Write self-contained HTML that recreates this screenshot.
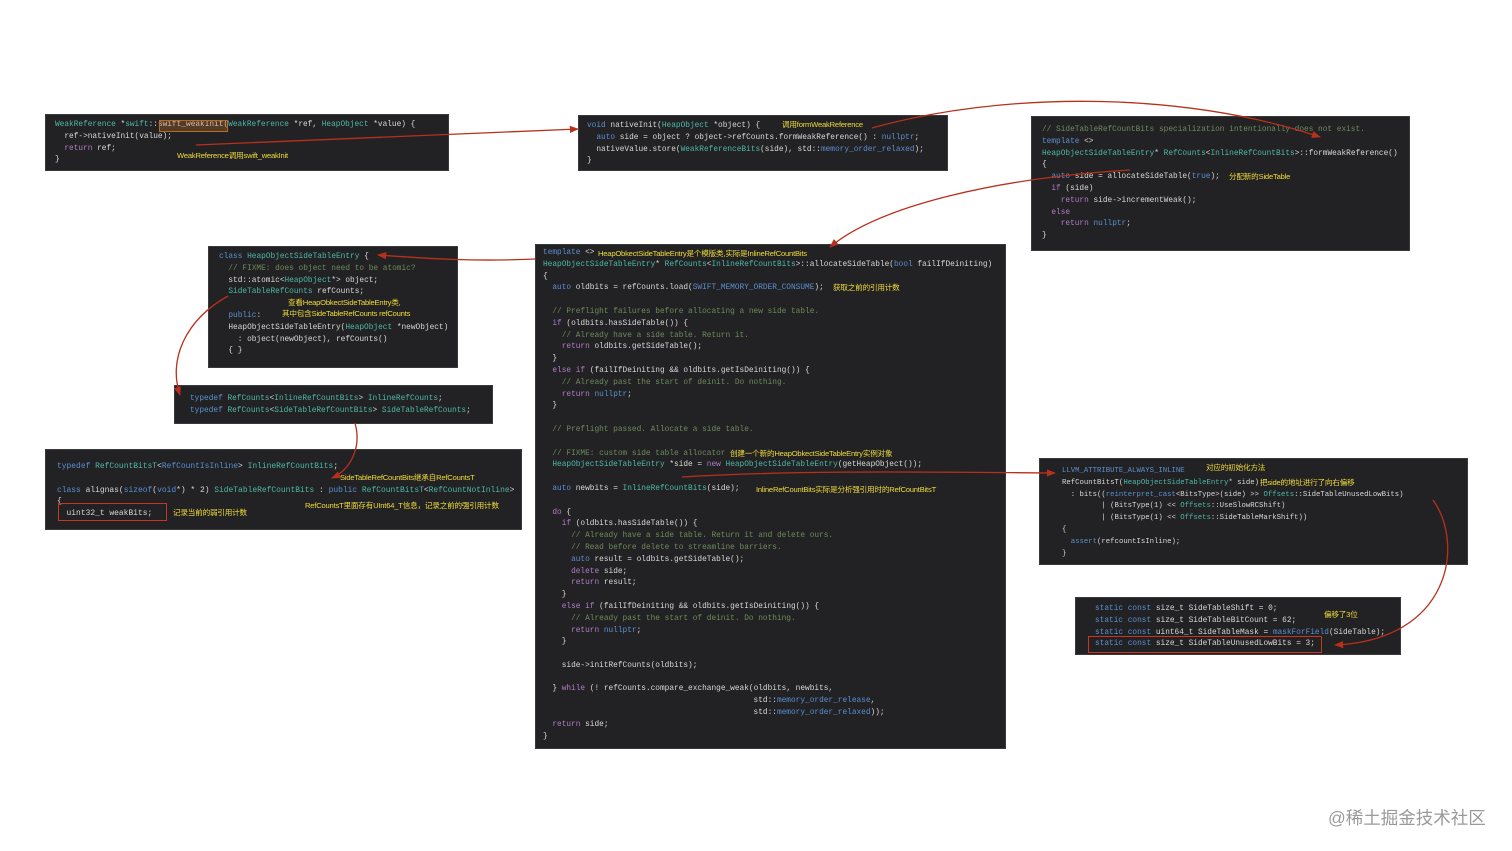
<!DOCTYPE html>
<html><head><meta charset="utf-8"><style>
body{margin:0;width:1512px;height:851px;background:#fff;position:relative;overflow:hidden}
.b{position:absolute;background:#222224;border:1px solid #3a3a3a}
pre{position:absolute;margin:0;font-family:"Liberation Mono",monospace;font-size:7.8px;line-height:11.8px;color:#d8d8d8;white-space:pre}
.k{color:#5b8fd0}.t{color:#4fb8a8}.c{color:#6e8a5a}.p{color:#b07cc6}.f{color:#e0e0b8}
.a{position:absolute;font-family:"Liberation Sans","Noto Sans CJK SC",sans-serif;font-size:7.6px;color:#f0dc3a;white-space:nowrap;letter-spacing:-0.2px}
.r{position:absolute;border:1.3px solid #c8361f}
</style></head><body>

<div class="b" style="left:45px;top:114px;width:402px;height:55px"></div>
<pre style="left:55px;top:120px"><span class="t">WeakReference</span> *<span class="t">swift</span>::swift_weakInit(<span class="t">WeakReference</span> *ref, <span class="t">HeapObject</span> *value) {
  ref-&gt;nativeInit(value);
  <span class="p">return</span> ref;
}</pre>
<div style="position:absolute;left:159px;top:120px;width:67px;height:10px;background:rgba(200,120,40,0.3);border:1px solid #b86a20"></div>
<div class="a" style="left:177px;top:150px">WeakReference调用swift_weakInit</div>

<div class="b" style="left:578px;top:115px;width:368px;height:54px"></div>
<pre style="left:587px;top:121px"><span class="k">void</span> nativeInit(<span class="t">HeapObject</span> *object) {
  <span class="k">auto</span> side = object ? object-&gt;refCounts.formWeakReference() : <span class="k">nullptr</span>;
  nativeValue.store(<span class="t">WeakReferenceBits</span>(side), std::<span class="k">memory_order_relaxed</span>);
}</pre>
<div class="a" style="left:782px;top:119px">调用formWeakReference</div>

<div class="b" style="left:1031px;top:116px;width:377px;height:133px"></div>
<pre style="left:1042px;top:125px"><span class="c">// SideTableRefCountBits specialization intentionally does not exist.</span>
<span class="k">template</span> &lt;&gt;
<span class="t">HeapObjectSideTableEntry</span>* <span class="t">RefCounts</span>&lt;<span class="t">InlineRefCountBits</span>&gt;::formWeakReference()
{
  <span class="k">auto</span> side = allocateSideTable(<span class="k">true</span>);
  <span class="p">if</span> (side)
    <span class="p">return</span> side-&gt;incrementWeak();
  <span class="p">else</span>
    <span class="p">return</span> <span class="k">nullptr</span>;
}</pre>
<div class="a" style="left:1229px;top:171px">分配新的SideTable</div>

<div class="b" style="left:208px;top:246px;width:248px;height:120px"></div>
<pre style="left:219px;top:252px"><span class="k">class</span> <span class="t">HeapObjectSideTableEntry</span> {
  <span class="c">// FIXME: does object need to be atomic?</span>
  std::atomic&lt;<span class="t">HeapObject</span>*&gt; object;
  <span class="t">SideTableRefCounts</span> refCounts;

  <span class="k">public</span>:
  HeapObjectSideTableEntry(<span class="t">HeapObject</span> *newObject)
    : object(newObject), refCounts()
  { }</pre>
<div class="a" style="left:288px;top:297px">查看HeapObkectSideTableEntry类,</div>
<div class="a" style="left:282px;top:308px">其中包含SideTableRefCounts refCounts</div>

<div class="b" style="left:174px;top:385px;width:317px;height:37px"></div>
<pre style="left:190px;top:394px"><span class="k">typedef</span> <span class="t">RefCounts</span>&lt;<span class="t">InlineRefCountBits</span>&gt; <span class="t">InlineRefCounts</span>;
<span class="k">typedef</span> <span class="t">RefCounts</span>&lt;<span class="t">SideTableRefCountBits</span>&gt; <span class="t">SideTableRefCounts</span>;</pre>

<div class="b" style="left:45px;top:449px;width:475px;height:79px"></div>
<pre style="left:57px;top:461px;font-size:7.95px"><span class="k">typedef</span> <span class="t">RefCountBitsT</span>&lt;<span class="k">RefCountIsInline</span>&gt; <span class="t">InlineRefCountBits</span>;

<span class="k">class</span> alignas(<span class="k">sizeof</span>(<span class="k">void</span>*) * 2) <span class="t">SideTableRefCountBits</span> : <span class="k">public</span> <span class="t">RefCountBitsT</span>&lt;<span class="t">RefCountNotInline</span>&gt;
{
  uint32_t weakBits;</pre>
<div class="r" style="left:58px;top:503px;width:107px;height:16px"></div>
<div class="a" style="left:173px;top:507px">记录当前的弱引用计数</div>
<div class="a" style="left:340px;top:472px">SideTableRefCountBits继承自RefCountsT</div>
<div class="a" style="left:305px;top:500px">RefCountsT里面存有UInt64_T信息，记录之前的强引用计数</div>

<div class="b" style="left:535px;top:244px;width:469px;height:503px"></div>
<pre style="left:543px;top:248px"><span class="k">template</span> &lt;&gt;
<span class="t">HeapObjectSideTableEntry</span>* <span class="t">RefCounts</span>&lt;<span class="t">InlineRefCountBits</span>&gt;::allocateSideTable(<span class="k">bool</span> failIfDeiniting)
{
  <span class="k">auto</span> oldbits = refCounts.load(<span class="k">SWIFT_MEMORY_ORDER_CONSUME</span>);

  <span class="c">// Preflight failures before allocating a new side table.</span>
  <span class="p">if</span> (oldbits.hasSideTable()) {
    <span class="c">// Already have a side table. Return it.</span>
    <span class="p">return</span> oldbits.getSideTable();
  }
  <span class="p">else if</span> (failIfDeiniting &amp;&amp; oldbits.getIsDeiniting()) {
    <span class="c">// Already past the start of deinit. Do nothing.</span>
    <span class="p">return</span> <span class="k">nullptr</span>;
  }

  <span class="c">// Preflight passed. Allocate a side table.</span>

  <span class="c">// FIXME: custom side table allocator</span>
  <span class="t">HeapObjectSideTableEntry</span> *side = <span class="p">new</span> <span class="t">HeapObjectSideTableEntry</span>(getHeapObject());

  <span class="k">auto</span> newbits = <span class="t">InlineRefCountBits</span>(side);

  <span class="p">do</span> {
    <span class="p">if</span> (oldbits.hasSideTable()) {
      <span class="c">// Already have a side table. Return it and delete ours.</span>
      <span class="c">// Read before delete to streamline barriers.</span>
      <span class="k">auto</span> result = oldbits.getSideTable();
      <span class="p">delete</span> side;
      <span class="p">return</span> result;
    }
    <span class="p">else if</span> (failIfDeiniting &amp;&amp; oldbits.getIsDeiniting()) {
      <span class="c">// Already past the start of deinit. Do nothing.</span>
      <span class="p">return</span> <span class="k">nullptr</span>;
    }

    side-&gt;initRefCounts(oldbits);

  } <span class="p">while</span> (! refCounts.compare_exchange_weak(oldbits, newbits,
                                             std::<span class="k">memory_order_release</span>,
                                             std::<span class="k">memory_order_relaxed</span>));
  <span class="p">return</span> side;
}</pre>
<div class="a" style="left:598px;top:248px">HeapObkectSideTableEntry是个模版类,实际是InlineRefCountBits</div>
<div class="a" style="left:833px;top:282px">获取之前的引用计数</div>
<div class="a" style="left:730px;top:448px">创建一个新的HeapObkectSideTableEntry实例对象</div>
<div class="a" style="left:756px;top:484px">InlineRefCountBits实际是分析强引用时的RefCountBitsT</div>

<div class="b" style="left:1039px;top:458px;width:427px;height:105px"></div>
<pre style="left:1062px;top:466px;font-size:7.3px"><span class="k">LLVM_ATTRIBUTE_ALWAYS_INLINE</span>
RefCountBitsT(<span class="t">HeapObjectSideTableEntry</span>* side)
  : bits((<span class="k">reinterpret_cast</span>&lt;BitsType&gt;(side) &gt;&gt; <span class="t">Offsets</span>::SideTableUnusedLowBits)
         | (BitsType(1) &lt;&lt; <span class="t">Offsets</span>::UseSlowRCShift)
         | (BitsType(1) &lt;&lt; <span class="t">Offsets</span>::SideTableMarkShift))
{
  <span class="k">assert</span>(refcountIsInline);
}</pre>
<div class="a" style="left:1206px;top:462px">对应的初始化方法</div>
<div class="a" style="left:1260px;top:477px">把side的地址进行了向右偏移</div>

<div class="b" style="left:1075px;top:597px;width:324px;height:56px"></div>
<pre style="left:1095px;top:604px"><span class="k">static const</span> size_t SideTableShift = 0;
<span class="k">static const</span> size_t SideTableBitCount = 62;
<span class="k">static const</span> uint64_t SideTableMask = <span class="k">maskForField</span>(SideTable);
<span class="k">static const</span> size_t SideTableUnusedLowBits = 3;</pre>
<div class="r" style="left:1088px;top:636px;width:232px;height:15px"></div>
<div class="a" style="left:1324px;top:609px">偏移了3位</div>

<svg width="1512" height="851" style="position:absolute;left:0;top:0" fill="none" stroke="#b8301c" stroke-width="1.3">
<defs><marker id="m" viewBox="0 0 10 10" refX="9" refY="5" markerWidth="7" markerHeight="7" orient="auto"><path d="M0,1 L10,5 L0,9 z" fill="#b8301c" stroke="none"/></marker></defs>
<path d="M196,145 L578,129" marker-end="url(#m)"/>
<path d="M872,128 C1000,92 1180,90 1320,137" marker-end="url(#m)"/>
<path d="M1130,170 C1000,178 880,205 830,247" marker-end="url(#m)"/>
<path d="M535,259 C470,262 420,258 378,255" marker-end="url(#m)"/>
<path d="M228,296 C185,320 168,360 180,395" marker-end="url(#m)"/>
<path d="M355,423 C362,448 350,470 332,478" marker-end="url(#m)"/>
<path d="M682,477 C800,470 920,472 1055,473" marker-end="url(#m)"/>
<path d="M1433,500 C1465,545 1450,640 1335,645" marker-end="url(#m)"/>
</svg>

<div style="position:absolute;left:1328px;top:805px;font-family:'Liberation Sans','Noto Sans CJK SC',sans-serif;font-size:17.5px;color:#9a9a9a">@稀土掘金技术社区</div>
</body></html>
